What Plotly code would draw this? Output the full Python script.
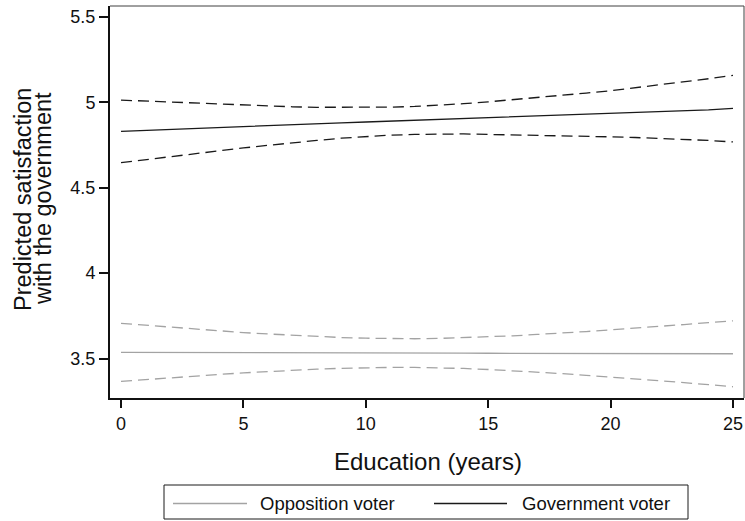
import plotly.graph_objects as go

# Years of education (x axis)
education = list(range(26))

# Predicted satisfaction, government voters (point estimate and 95% bounds)
gov_pred = [4.830, 4.836, 4.841, 4.847, 4.852, 4.858, 4.863, 4.869, 4.874, 4.880,
            4.885, 4.890, 4.894, 4.899, 4.903, 4.908, 4.912, 4.917, 4.922, 4.927,
            4.932, 4.938, 4.944, 4.950, 4.956, 4.965]
gov_upper = [5.013, 5.007, 5.000, 4.994, 4.988, 4.983, 4.978, 4.974, 4.971, 4.970,
             4.970, 4.972, 4.976, 4.983, 4.992, 5.003, 5.015, 5.029, 5.040, 5.054,
             5.068, 5.085, 5.102, 5.120, 5.138, 5.158]
gov_lower = [4.647, 4.665, 4.682, 4.700, 4.716, 4.733, 4.748, 4.764, 4.777, 4.790,
             4.800, 4.808, 4.812, 4.814, 4.815, 4.812, 4.810, 4.807, 4.805, 4.802,
             4.798, 4.794, 4.789, 4.783, 4.777, 4.768]

# Predicted satisfaction, opposition voters (point estimate and 95% bounds)
opp_pred = [3.536, 3.536, 3.535, 3.535, 3.535, 3.534, 3.534, 3.534, 3.533, 3.533,
            3.533, 3.532, 3.532, 3.532, 3.532, 3.531, 3.531, 3.531, 3.530, 3.530,
            3.530, 3.529, 3.529, 3.529, 3.528, 3.528]
opp_upper = [3.706, 3.695, 3.683, 3.673, 3.663, 3.652, 3.644, 3.636, 3.628, 3.623,
             3.619, 3.616, 3.616, 3.618, 3.622, 3.626, 3.633, 3.641, 3.648, 3.658,
             3.668, 3.677, 3.688, 3.699, 3.710, 3.721]
opp_lower = [3.366, 3.377, 3.387, 3.397, 3.407, 3.416, 3.424, 3.432, 3.438, 3.443,
             3.447, 3.448, 3.448, 3.446, 3.442, 3.436, 3.429, 3.421, 3.412, 3.402,
             3.392, 3.381, 3.370, 3.359, 3.347, 3.335]

x_ticks = [0, 5, 10, 15, 20, 25]
y_ticks = [3.5, 4, 4.5, 5, 5.5]
y_tick_text = ["3.5", "4", "4.5", "5", "5.5"]

series_names = ["Opposition voter", "Government voter"]
y_title_lines = ["Predicted satisfaction", "with the government"]
x_title = "Education (years)"

OPP_COLOR = "#a3a3a3"
GOV_COLOR = "#1a1a1a"
DASH = "11px,6px"
FONT = "Liberation Sans, Arial, sans-serif"
TEXT = "#111111"

W, H = 745, 521
M_L, M_R, M_T, M_B = 110, 1, 6, 123
PW = W - M_L - M_R
PH = H - M_T - M_B


def px_x(px):
    """Horizontal pixel position -> paper coordinate."""
    return (px - M_L) / PW


def px_y(py):
    """Vertical pixel position (from top) -> paper coordinate."""
    return (H - M_B - py) / PH


fig = go.Figure()

for ys, color, dash in [
    (opp_upper, OPP_COLOR, DASH),
    (opp_lower, OPP_COLOR, DASH),
    (opp_pred, OPP_COLOR, "solid"),
    (gov_upper, GOV_COLOR, DASH),
    (gov_lower, GOV_COLOR, DASH),
    (gov_pred, GOV_COLOR, "solid"),
]:
    fig.add_trace(go.Scatter(
        x=education, y=ys, mode="lines",
        line=dict(color=color, width=1.3, dash=dash),
        showlegend=False, hoverinfo="skip",
    ))

LEG_Y = 503.5
shapes = [
    # thin frame on top and right of the plot region
    dict(type="line", xref="paper", yref="paper", x0=0, x1=1, y0=1, y1=1,
         line=dict(color="#404040", width=1)),
    dict(type="line", xref="paper", yref="paper", x0=1, x1=1, y0=0, y1=1,
         line=dict(color="#404040", width=1)),
    # legend box
    dict(type="rect", xref="paper", yref="paper",
         x0=px_x(164), x1=px_x(688), y0=px_y(519), y1=px_y(485),
         line=dict(color="#1a1a1a", width=1), fillcolor="white"),
    # legend keys
    dict(type="line", xref="paper", yref="paper",
         x0=px_x(173), x1=px_x(247), y0=px_y(LEG_Y), y1=px_y(LEG_Y),
         line=dict(color=OPP_COLOR, width=1.3)),
    dict(type="line", xref="paper", yref="paper",
         x0=px_x(434), x1=px_x(507), y0=px_y(LEG_Y), y1=px_y(LEG_Y),
         line=dict(color=GOV_COLOR, width=1.3)),
]

annotations = [
    dict(text=x_title, xref="paper", yref="paper",
         x=px_x(428), y=px_y(461), xanchor="center", yanchor="middle",
         showarrow=False, font=dict(family=FONT, size=24, color=TEXT)),
    dict(text=y_title_lines[0], xref="paper", yref="paper",
         x=px_x(22.5), y=px_y(199.5), xanchor="center", yanchor="middle", textangle=-90,
         showarrow=False, font=dict(family=FONT, size=23.5, color=TEXT)),
    dict(text=y_title_lines[1], xref="paper", yref="paper",
         x=px_x(42.5), y=px_y(198.5), xanchor="center", yanchor="middle", textangle=-90,
         showarrow=False, font=dict(family=FONT, size=23.5, color=TEXT)),
    dict(text=series_names[0], xref="paper", yref="paper",
         x=px_x(258), y=px_y(LEG_Y), xanchor="left", yanchor="middle",
         showarrow=False, font=dict(family=FONT, size=18.5, color=TEXT)),
    dict(text=series_names[1], xref="paper", yref="paper",
         x=px_x(520), y=px_y(LEG_Y), xanchor="left", yanchor="middle",
         showarrow=False, font=dict(family=FONT, size=18.5, color=TEXT)),
]

fig.update_layout(
    width=W, height=H,
    margin=dict(l=M_L, r=M_R, t=M_T, b=M_B),
    paper_bgcolor="white", plot_bgcolor="white",
    font=dict(family=FONT, size=18, color=TEXT),
    showlegend=False,
    shapes=shapes,
    annotations=annotations,
    xaxis=dict(
        range=[-0.45, 25.45], tickvals=x_ticks, ticktext=[str(v) for v in x_ticks],
        showgrid=False, zeroline=False,
        showline=True, linecolor="#111", linewidth=2,
        ticks="outside", ticklen=8, tickwidth=1.5, tickcolor="#111",
        tickfont=dict(family=FONT, size=18, color=TEXT),
    ),
    yaxis=dict(
        range=[3.269, 5.564], tickvals=y_ticks, ticktext=y_tick_text,
        showgrid=False, zeroline=False,
        showline=True, linecolor="#111", linewidth=2,
        ticks="outside", ticklen=9, tickwidth=1.5, tickcolor="#111",
        tickfont=dict(family=FONT, size=18, color=TEXT),
    ),
)

fig.write_html("out.html")
